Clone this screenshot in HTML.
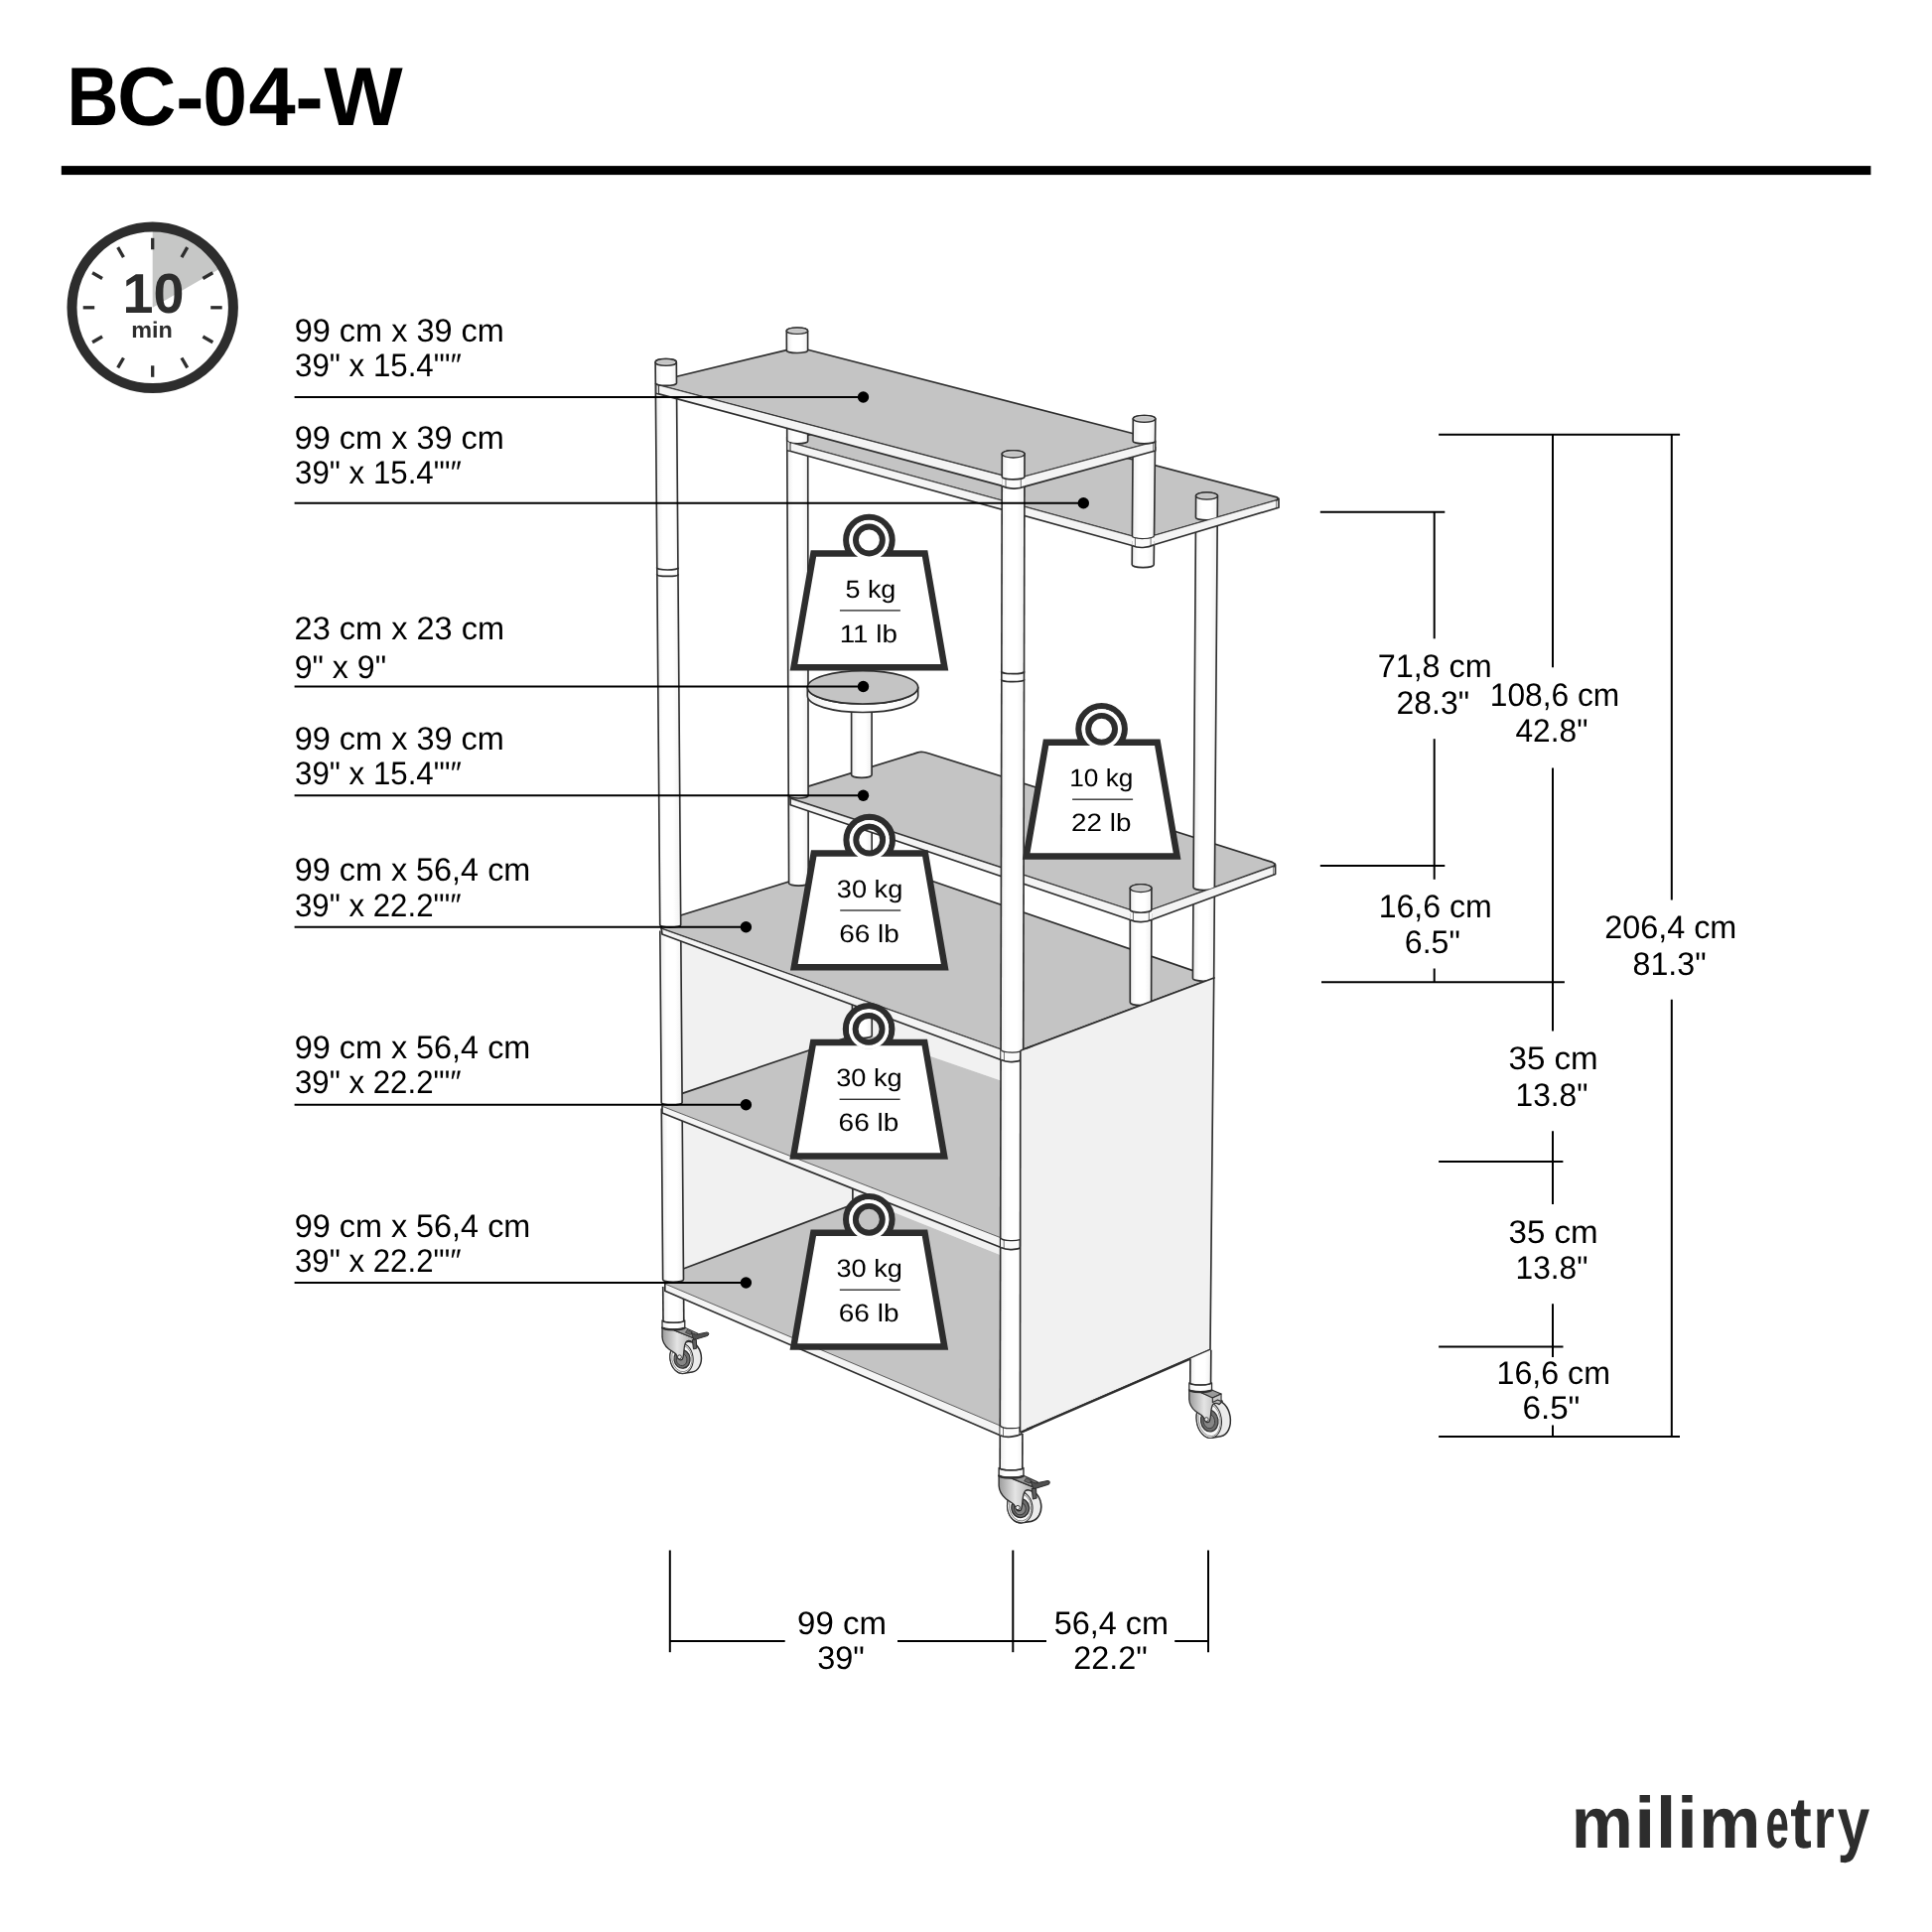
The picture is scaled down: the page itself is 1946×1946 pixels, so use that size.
<!DOCTYPE html>
<html lang="en"><head><meta charset="utf-8"><title>BC-04-W</title>
<style>
html,body{margin:0;padding:0;background:#fff;}
body{width:1946px;height:1946px;overflow:hidden;}
svg{display:block;}
text{text-rendering:geometricPrecision;}
svg{will-change:transform;transform:translateZ(0);}
</style></head><body>
<svg xmlns="http://www.w3.org/2000/svg" width="1946" height="1946" viewBox="0 0 1946 1946" font-family="'Liberation Sans', Arial, sans-serif">
<defs>
<linearGradient id="pg" x1="0" x2="1" y1="0" y2="0">
<stop offset="0" stop-color="#ededed"/><stop offset="0.28" stop-color="#ffffff"/><stop offset="0.7" stop-color="#ffffff"/><stop offset="1" stop-color="#f0f0f0"/>
</linearGradient>
<linearGradient id="hg" x1="0" x2="1" y1="0" y2="0">
<stop offset="0" stop-color="#9c9c9c"/><stop offset="0.45" stop-color="#e4e4e4"/><stop offset="1" stop-color="#a8a8a8"/>
</linearGradient>
<mask id="wm" maskUnits="userSpaceOnUse" x="-90" y="-40" width="180" height="180"><rect x="-90" y="-40" width="180" height="180" fill="#fff"/><circle cx="0" cy="0" r="20" fill="#000"/></mask>
</defs>
<rect width="1946" height="1946" fill="#fff"/>
<text y="125.5" font-size="83.6" font-weight="bold" fill="#000"><tspan x="67.58" textLength="51.97" lengthAdjust="spacingAndGlyphs">B</tspan><tspan x="118.02" textLength="59.52" lengthAdjust="spacingAndGlyphs">C</tspan><tspan x="177.05" textLength="28.58" lengthAdjust="spacingAndGlyphs">-</tspan><tspan x="204.15" textLength="44.87" lengthAdjust="spacingAndGlyphs">0</tspan><tspan x="250.63" textLength="47.21" lengthAdjust="spacingAndGlyphs">4</tspan><tspan x="297.15" textLength="28.58" lengthAdjust="spacingAndGlyphs">-</tspan><tspan x="326.32" textLength="79.46" lengthAdjust="spacingAndGlyphs">W</tspan></text>
<rect x="61.8" y="167.1" width="1822.6" height="9" fill="#000"/>
<path d="M153.7 309.8 L153.7 232.8 A77 77 0 0 1 220.38 271.3 Z" fill="#c6c7c6"/>
<circle cx="153.7" cy="309.8" r="81.2" fill="none" stroke="#2d2d2d" stroke-width="10"/>
<line x1="153.7" y1="251.3" x2="153.7" y2="239.8" stroke="#2d2d2d" stroke-width="3.3" stroke-linecap="butt"/>
<line x1="182.95" y1="259.14" x2="188.7" y2="249.18" stroke="#2d2d2d" stroke-width="3.3" stroke-linecap="butt"/>
<line x1="204.36" y1="280.55" x2="214.32" y2="274.8" stroke="#2d2d2d" stroke-width="3.3" stroke-linecap="butt"/>
<line x1="212.2" y1="309.8" x2="223.7" y2="309.8" stroke="#2d2d2d" stroke-width="3.3" stroke-linecap="butt"/>
<line x1="204.36" y1="339.05" x2="214.32" y2="344.8" stroke="#2d2d2d" stroke-width="3.3" stroke-linecap="butt"/>
<line x1="182.95" y1="360.46" x2="188.7" y2="370.42" stroke="#2d2d2d" stroke-width="3.3" stroke-linecap="butt"/>
<line x1="153.7" y1="368.3" x2="153.7" y2="379.8" stroke="#2d2d2d" stroke-width="3.3" stroke-linecap="butt"/>
<line x1="124.45" y1="360.46" x2="118.7" y2="370.42" stroke="#2d2d2d" stroke-width="3.3" stroke-linecap="butt"/>
<line x1="103.04" y1="339.05" x2="93.08" y2="344.8" stroke="#2d2d2d" stroke-width="3.3" stroke-linecap="butt"/>
<line x1="95.2" y1="309.8" x2="83.7" y2="309.8" stroke="#2d2d2d" stroke-width="3.3" stroke-linecap="butt"/>
<line x1="103.04" y1="280.55" x2="93.08" y2="274.8" stroke="#2d2d2d" stroke-width="3.3" stroke-linecap="butt"/>
<line x1="124.45" y1="259.14" x2="118.7" y2="249.18" stroke="#2d2d2d" stroke-width="3.3" stroke-linecap="butt"/>
<text x="123.49" y="315.4" font-size="56.5" text-anchor="start" font-weight="bold" fill="#2d2d2d" textLength="62.02" lengthAdjust="spacingAndGlyphs" >10</text>
<text x="132.16" y="339.9" font-size="22.7" text-anchor="start" font-weight="bold" fill="#2d2d2d" textLength="41.59" lengthAdjust="spacingAndGlyphs" >min</text>
<text x="296.67" y="344.1" font-size="32.6" text-anchor="start" font-weight="normal" fill="#000" textLength="211.27" lengthAdjust="spacingAndGlyphs" >99 cm x 39 cm</text>
<text x="297.01" y="379.3" font-size="32.6" text-anchor="start" font-weight="normal" fill="#000" textLength="167.89" lengthAdjust="spacingAndGlyphs" >39" x 15.4"'″</text>
<text x="296.67" y="451.8" font-size="32.6" text-anchor="start" font-weight="normal" fill="#000" textLength="211.27" lengthAdjust="spacingAndGlyphs" >99 cm x 39 cm</text>
<text x="297.01" y="487" font-size="32.6" text-anchor="start" font-weight="normal" fill="#000" textLength="167.89" lengthAdjust="spacingAndGlyphs" >39" x 15.4"'″</text>
<text x="296.57" y="643.7" font-size="32.6" text-anchor="start" font-weight="normal" fill="#000" textLength="211.47" lengthAdjust="spacingAndGlyphs" >23 cm x 23 cm</text>
<text x="296.69" y="682.6" font-size="32.6" text-anchor="start" font-weight="normal" fill="#000" textLength="92.35" lengthAdjust="spacingAndGlyphs" >9" x 9"</text>
<text x="296.67" y="754.9" font-size="32.6" text-anchor="start" font-weight="normal" fill="#000" textLength="211.27" lengthAdjust="spacingAndGlyphs" >99 cm x 39 cm</text>
<text x="297.01" y="790" font-size="32.6" text-anchor="start" font-weight="normal" fill="#000" textLength="167.89" lengthAdjust="spacingAndGlyphs" >39" x 15.4"'″</text>
<text x="296.68" y="887.4" font-size="32.6" text-anchor="start" font-weight="normal" fill="#000" textLength="237.66" lengthAdjust="spacingAndGlyphs" >99 cm x 56,4 cm</text>
<text x="297.01" y="922.6" font-size="32.6" text-anchor="start" font-weight="normal" fill="#000" textLength="167.58" lengthAdjust="spacingAndGlyphs" >39" x 22.2"'″</text>
<text x="296.68" y="1066.3" font-size="32.6" text-anchor="start" font-weight="normal" fill="#000" textLength="237.66" lengthAdjust="spacingAndGlyphs" >99 cm x 56,4 cm</text>
<text x="297.01" y="1101.4" font-size="32.6" text-anchor="start" font-weight="normal" fill="#000" textLength="167.58" lengthAdjust="spacingAndGlyphs" >39" x 22.2"'″</text>
<text x="296.68" y="1245.8" font-size="32.6" text-anchor="start" font-weight="normal" fill="#000" textLength="237.66" lengthAdjust="spacingAndGlyphs" >99 cm x 56,4 cm</text>
<text x="297.01" y="1280.5" font-size="32.6" text-anchor="start" font-weight="normal" fill="#000" textLength="167.58" lengthAdjust="spacingAndGlyphs" >39" x 22.2"'″</text>
<g id="drawing">
<polygon points="688.5,1129.54 1008.2,1256.6 1008.2,1264.2 870,1209 688.8,1277.8" fill="#f1f1f1" stroke="none" stroke-width="1.65" stroke-linejoin="round" />
<polygon points="669.8,1293.1 669.8,1285.1 870,1209 1008,1264.2 1008,1436.3" fill="#c4c4c4" stroke="none" stroke-width="1.65" stroke-linejoin="round" />
<polyline points="688.8,1277.8 870,1209" fill="none" stroke="#2e2e2e" stroke-width="1.65" stroke-linejoin="round" stroke-linecap="round" />
<path d="M858.85 1190 L858.89 1208 A9.85 2.5 0 0 0 878.6 1208 L878.56 1190 Z" fill="url(#pg)" stroke="none"/>
<path d="M858.85 1190 L858.89 1208 A9.85 2.5 0 0 0 878.6 1208 L878.56 1190" fill="none" stroke="#2e2e2e" stroke-width="1.65" stroke-linejoin="round" />
<polygon points="685.8,948.06 1008.2,1067.5 1008.2,1088.4 868,1040 686.4,1101.6" fill="#f1f1f1" stroke="none" stroke-width="1.65" stroke-linejoin="round" />
<polygon points="667,1114.3 667,1108.5 868,1040 1008.2,1088.4 1008.2,1246.8" fill="#c4c4c4" stroke="none" stroke-width="1.65" stroke-linejoin="round" />
<polyline points="686.4,1101.6 868,1040" fill="none" stroke="#2e2e2e" stroke-width="1.65" stroke-linejoin="round" stroke-linecap="round" />
<path d="M858.38 1000 L858.48 1043 A9.89 2.5 0 0 0 878.27 1043 L878.18 1000 Z" fill="url(#pg)" stroke="none"/>
<path d="M858.38 1000 L858.48 1043 A9.89 2.5 0 0 0 878.27 1043 L878.18 1000" fill="none" stroke="#2e2e2e" stroke-width="1.65" stroke-linejoin="round" />
<polygon points="666.2,935.4 666.2,928 871.5,864.2 1222.7,984.9 1030.6,1057.1 1020,1061 1008.2,1057.1" fill="#c4c4c4" stroke="#2e2e2e" stroke-width="1.65" stroke-linejoin="round" />
<path d="M857.87 820 L858.19 864.5 A10 2.5 0 0 0 878.2 864.5 L878.14 820 Z" fill="url(#pg)" stroke="none"/>
<path d="M857.87 820 L858.19 864.5 A10 2.5 0 0 0 878.2 864.5 L878.14 820" fill="none" stroke="#2e2e2e" stroke-width="1.65" stroke-linejoin="round" />
<path d="M794.23 800 L794.6 889.5 A9.8 2.6 0 0 0 814.2 889.5 L814.1 800 Z" fill="url(#pg)" stroke="none"/>
<path d="M794.23 800 L794.6 889.5 A9.8 2.6 0 0 0 814.2 889.5 L814.1 800" fill="none" stroke="#2e2e2e" stroke-width="1.65" stroke-linejoin="round" />
<path d="M1138.3 920 L1138.3 1009.8 A10.65 2.8 0 0 0 1159.61 1009.8 L1159.84 920 Z" fill="url(#pg)" stroke="none"/>
<path d="M1138.3 920 L1138.3 1009.8 A10.65 2.8 0 0 0 1159.61 1009.8 L1159.84 920" fill="none" stroke="#2e2e2e" stroke-width="1.65" stroke-linejoin="round" />
<path d="M1202.02 896 L1201.44 985.5 A10.63 2.8 0 0 0 1222.69 985.5 L1223.37 896 Z" fill="url(#pg)" stroke="none"/>
<path d="M1202.02 896 L1201.44 985.5 A10.63 2.8 0 0 0 1222.69 985.5 L1223.37 896" fill="none" stroke="#2e2e2e" stroke-width="1.65" stroke-linejoin="round" />
<path d="M660.3 386 L664.75 931.6 A10.48 2.5 0 0 0 685.71 931.6 L681.49 386 Z" fill="url(#pg)" stroke="none"/>
<path d="M660.3 386 L664.75 931.6 A10.48 2.5 0 0 0 685.71 931.6 L681.49 386" fill="none" stroke="#2e2e2e" stroke-width="1.65" stroke-linejoin="round" />
<path d="M664.8 937.5 L666.21 1110.6 A10.45 2.5 0 0 0 687.1 1110.6 L685.81 944.5 Z" fill="url(#pg)" stroke="none"/>
<path d="M664.8 937.5 L666.21 1110.6 A10.45 2.5 0 0 0 687.1 1110.6 L685.81 944.5" fill="none" stroke="#2e2e2e" stroke-width="1.65" stroke-linejoin="round" />
<path d="M666.26 1116.5 L667.66 1288.8 A10.41 2.5 0 0 0 688.48 1288.8 L687.21 1124.5 Z" fill="url(#pg)" stroke="none"/>
<path d="M666.26 1116.5 L667.66 1288.8 A10.41 2.5 0 0 0 688.48 1288.8 L687.21 1124.5" fill="none" stroke="#2e2e2e" stroke-width="1.65" stroke-linejoin="round" />
<path d="M667.72 1296 L668.01 1331 L688.81 1331 L688.6 1304 Z" fill="url(#pg)" stroke="none"/>
<line x1="667.72" y1="1296" x2="668.01" y2="1331" stroke="#2e2e2e" stroke-width="1.65" stroke-linecap="butt"/>
<line x1="688.6" y1="1304" x2="688.81" y2="1331" stroke="#2e2e2e" stroke-width="1.65" stroke-linecap="butt"/>
<polygon points="1027.8,1058.2 1222.7,984.9 1219,1359.5 1027.5,1442.6" fill="#f1f1f1" stroke="#2e2e2e" stroke-width="1.65" stroke-linejoin="round" />
<line x1="1219" y1="1359.9" x2="1027.5" y2="1443" stroke="#2e2e2e" stroke-width="2.4" stroke-linecap="butt"/>
<clipPath id="cpE"><polygon points="1190,1372.5 1219.3,1359.8 1235,1359.8 1235,1400 1190,1400"/></clipPath>
<g clip-path="url(#cpE)">
<path d="M1199.03 1355 L1198.78 1393.5 A10.4 2.6 0 0 0 1219.57 1393.5 L1219.87 1355 Z" fill="url(#pg)" stroke="none"/>
<path d="M1199.03 1355 L1198.78 1393.5 A10.4 2.6 0 0 0 1219.57 1393.5 L1219.87 1355" fill="none" stroke="#2e2e2e" stroke-width="1.65" stroke-linejoin="round" />
</g>
<polygon points="669.8,1293.1 1007.4,1436 1007.4,1445.7 669.8,1300.2" fill="#f4f4f4" stroke="none" stroke-width="1.65" stroke-linejoin="round" />
<polyline points="1007.4,1445.7 669.8,1300.2 669.8,1293.1" fill="none" stroke="#2e2e2e" stroke-width="1.65" stroke-linejoin="round" stroke-linecap="round" />
<line x1="669.8" y1="1293.1" x2="1007.4" y2="1436" stroke="#2e2e2e" stroke-width="0.75" stroke-linecap="butt"/>
<polygon points="667,1114.3 1008.2,1246.8 1008.2,1256.6 667,1121" fill="#f4f4f4" stroke="none" stroke-width="1.65" stroke-linejoin="round" />
<polyline points="1008.2,1256.6 667,1121 667,1114.3" fill="none" stroke="#2e2e2e" stroke-width="1.65" stroke-linejoin="round" stroke-linecap="round" />
<line x1="667" y1="1114.3" x2="1008.2" y2="1246.8" stroke="#2e2e2e" stroke-width="0.75" stroke-linecap="butt"/>
<polygon points="666.2,935.4 1008.2,1057.1 1008.2,1067.5 667,941.1" fill="#f4f4f4" stroke="none" stroke-width="1.65" stroke-linejoin="round" />
<polyline points="1008.2,1067.5 667,941.1 666.2,935.4" fill="none" stroke="#2e2e2e" stroke-width="1.65" stroke-linejoin="round" stroke-linecap="round" />
<line x1="666.2" y1="935.4" x2="1008.2" y2="1057.1" stroke="#2e2e2e" stroke-width="0.75" stroke-linecap="butt"/>
<polygon points="796.1,804 796.1,797.6 920,759.4 924.5,757.9 928,757.3 931.5,757.7 936,759 1281.4,868.4 1284.3,870.3 1283.2,872.2 1160.6,916.2 1149.5,920.5 1138.3,916.5" fill="#c4c4c4" stroke="#2e2e2e" stroke-width="1.65" stroke-linejoin="round" />
<path d="M792.74 440 L794.23 801.5 A9.94 2.6 0 0 0 814.1 801.5 L813.71 440 Z" fill="url(#pg)" stroke="none"/>
<path d="M792.74 440 L794.23 801.5 A9.94 2.6 0 0 0 814.1 801.5 L813.71 440" fill="none" stroke="#2e2e2e" stroke-width="1.65" stroke-linejoin="round" />
<path d="M1204.44 525 L1202.03 893.8 A10.68 2.8 0 0 0 1223.39 893.8 L1226.21 525 Z" fill="url(#pg)" stroke="none"/>
<path d="M1204.44 525 L1202.03 893.8 A10.68 2.8 0 0 0 1223.39 893.8 L1226.21 525" fill="none" stroke="#2e2e2e" stroke-width="1.65" stroke-linejoin="round" />
<path d="M857.6 712 L857.6 780.5 A10.25 2.8 0 0 0 878.1 780.5 L878.1 712 Z" fill="url(#pg)" stroke="none"/>
<path d="M857.6 712 L857.6 780.5 A10.25 2.8 0 0 0 878.1 780.5 L878.1 712" fill="none" stroke="#2e2e2e" stroke-width="1.65" stroke-linejoin="round" />
<polygon points="796.1,804.5 1138.3,916.5 1138.3,926.5 796.1,810.7" fill="#f4f4f4" stroke="none" stroke-width="1.65" stroke-linejoin="round" />
<polyline points="1138.3,926.5 796.1,810.7 796.1,804.5" fill="none" stroke="#2e2e2e" stroke-width="1.65" stroke-linejoin="round" stroke-linecap="round" />
<line x1="796.1" y1="804.5" x2="1138.3" y2="916.5" stroke="#2e2e2e" stroke-width="0.75" stroke-linecap="butt"/>
<polygon points="1160.6,916.2 1283.2,872.6 1284.6,871 1284.6,880.5 1160.4,926.3" fill="#f4f4f4" stroke="none" stroke-width="1.65" stroke-linejoin="round" />
<polyline points="1283.2,872.6 1284.6,871 1284.6,880.5 1160.4,926.3" fill="none" stroke="#2e2e2e" stroke-width="1.65" stroke-linejoin="round" stroke-linecap="round" />
<line x1="1160.6" y1="916.2" x2="1283.2" y2="872.6" stroke="#2e2e2e" stroke-width="0.75" stroke-linecap="butt"/>
<line x1="1282.6" y1="872.4" x2="1282.6" y2="881.2" stroke="#2e2e2e" stroke-width="0.6" stroke-linecap="butt"/>
<path d="M1138.3 916.4 A11.1 2.9 0 0 0 1160.5 916.1 L1160.5 926.2 C1154.39 929.32 1144.4 929.62 1138.3 926.5 Z" fill="#fbfbfb" stroke="none"/>
<path d="M1138.3 926.5 C1144.4 929.62 1154.39 929.32 1160.5 926.2" fill="none" stroke="#2e2e2e" stroke-width="1.65" stroke-linejoin="round" />
<line x1="1141.4" y1="918.37" x2="1141.4" y2="927.81" stroke="#2e2e2e" stroke-width="0.7" stroke-linecap="butt"/>
<line x1="1157.3" y1="918.18" x2="1157.3" y2="927.61" stroke="#2e2e2e" stroke-width="0.7" stroke-linecap="butt"/>
<path d="M1138.3 894.6 L1138.3 916.3 A10.77 2.9 0 0 0 1159.85 916.3 L1159.9 894.6 A10.8 3.8 0 0 0 1138.3 894.6 Z" fill="url(#pg)" stroke="#2e2e2e" stroke-width="1.65" stroke-linejoin="round" />
<ellipse cx="1149.1" cy="894.6" rx="10.8" ry="3.8" fill="#c4c4c4" stroke="#2e2e2e" stroke-width="1.65"/>
<ellipse cx="1149.1" cy="894.6" rx="9.5" ry="2.8" fill="none" stroke="#e6e6e6" stroke-width="0.7"/>
<path d="M813.3 692.3 A55.7 16.7 0 0 0 924.7 692.3 L924.7 700.8 A55.7 16.7 0 0 1 813.3 700.8 Z" fill="url(#pg)" stroke="#2e2e2e" stroke-width="1.65" stroke-linejoin="round" />
<ellipse cx="869" cy="692.3" rx="55.7" ry="16.7" fill="#c4c4c4" stroke="#2e2e2e" stroke-width="1.65"/>
<polygon points="796,445.8 793.2,443.6 930.5,407.6 1286.2,500.9 1287.6,502.2 1286,503.8 1162.3,539.5 1151.3,543.2 1140.3,540.1" fill="#c4c4c4" stroke="#2e2e2e" stroke-width="1.65" stroke-linejoin="round" />
<path d="M792.67 425 L792.75 444.2 A10.48 2.6 0 0 0 813.72 444.2 L813.7 425 Z" fill="url(#pg)" stroke="none"/>
<path d="M792.67 425 L792.75 444.2 A10.48 2.6 0 0 0 813.72 444.2 L813.7 425" fill="none" stroke="#2e2e2e" stroke-width="1.65" stroke-linejoin="round" />
<path d="M1141.08 450 L1140.42 540.4 A11.05 2.6 0 0 0 1162.52 540.4 L1163.48 450 Z" fill="url(#pg)" stroke="none"/>
<path d="M1141.08 450 L1140.42 540.4 A11.05 2.6 0 0 0 1162.52 540.4 L1163.48 450" fill="none" stroke="#2e2e2e" stroke-width="1.65" stroke-linejoin="round" />
<path d="M1140.39 545 L1140.22 568.8 A11 2.8 0 0 0 1162.22 568.8 L1162.48 545 Z" fill="url(#pg)" stroke="none"/>
<path d="M1140.39 545 L1140.22 568.8 A11 2.8 0 0 0 1162.22 568.8 L1162.48 545" fill="none" stroke="#2e2e2e" stroke-width="1.65" stroke-linejoin="round" />
<path d="M1204.6 499.5 L1204.46 521.3 A10.89 2.6 0 0 0 1226.24 521.3 L1226.4 499.5 A10.9 3.4 0 0 0 1204.6 499.5 Z" fill="url(#pg)" stroke="#2e2e2e" stroke-width="1.65" stroke-linejoin="round" />
<ellipse cx="1215.5" cy="499.5" rx="10.9" ry="3.4" fill="#c4c4c4" stroke="#2e2e2e" stroke-width="1.65"/>
<ellipse cx="1215.5" cy="499.5" rx="9.6" ry="2.4" fill="none" stroke="#e6e6e6" stroke-width="0.7"/>
<polygon points="796,445.8 1140.3,540.1 1140.3,549.5 792.9,453.5" fill="#f4f4f4" stroke="none" stroke-width="1.65" stroke-linejoin="round" />
<polyline points="1140.3,549.5 792.9,453.5 796,445.8" fill="none" stroke="#2e2e2e" stroke-width="1.65" stroke-linejoin="round" stroke-linecap="round" />
<line x1="796" y1="445.8" x2="1140.3" y2="540.1" stroke="#2e2e2e" stroke-width="0.75" stroke-linecap="butt"/>
<polygon points="792.9,443.9 796,445.8 796,454.4 792.9,453.5" fill="#e4e4e4" stroke="#2e2e2e" stroke-width="1.0" stroke-linejoin="round" />
<polygon points="1162.3,539.5 1286,503.8 1288,502.4 1288,511.2 1162.3,548.8" fill="#f4f4f4" stroke="none" stroke-width="1.65" stroke-linejoin="round" />
<polyline points="1286,503.8 1288,502.4 1288,511.2 1162.3,548.8" fill="none" stroke="#2e2e2e" stroke-width="1.65" stroke-linejoin="round" stroke-linecap="round" />
<line x1="1162.3" y1="539.5" x2="1286" y2="503.8" stroke="#2e2e2e" stroke-width="0.75" stroke-linecap="butt"/>
<line x1="1285.6" y1="503.9" x2="1285.6" y2="511.9" stroke="#2e2e2e" stroke-width="0.6" stroke-linecap="butt"/>
<path d="M1140.3 540.1 A11 2.7 0 0 0 1162.3 539.5 L1162.3 548.8 C1156.25 551.92 1146.35 552.62 1140.3 549.5 Z" fill="#fbfbfb" stroke="none"/>
<path d="M1140.3 540.1 A11 2.7 0 0 0 1162.3 539.5" fill="none" stroke="#2e2e2e" stroke-width="1.2" stroke-linejoin="round" />
<path d="M1140.3 549.5 C1146.35 552.62 1156.25 551.92 1162.3 548.8" fill="none" stroke="#2e2e2e" stroke-width="1.65" stroke-linejoin="round" />
<line x1="1143.4" y1="541.89" x2="1143.4" y2="550.76" stroke="#2e2e2e" stroke-width="0.7" stroke-linecap="butt"/>
<line x1="1159.1" y1="541.49" x2="1159.1" y2="550.28" stroke="#2e2e2e" stroke-width="0.7" stroke-linecap="butt"/>
<path d="M1009.25 478 L1007.2 1479 L1029.8 1479 L1029.88 1445 L1031.95 478 Z" fill="url(#pg)"/>
<line x1="1009.25" y1="478" x2="1007.2" y2="1479" stroke="#2e2e2e" stroke-width="1.65" stroke-linecap="butt"/>
<line x1="1031.95" y1="478" x2="1030.71" y2="1057.5" stroke="#2e2e2e" stroke-width="1.65" stroke-linecap="butt"/>
<line x1="1029.88" y1="1444" x2="1029.8" y2="1479" stroke="#2e2e2e" stroke-width="1.65" stroke-linecap="butt"/>
<path d="M1008.3 1057.2 A11.15 2.9 0 0 0 1030.6 1057.1 L1030.6 1067 C1024.47 1070.12 1014.43 1070.62 1008.3 1067.5 Z" fill="#fbfbfb" stroke="none"/>
<path d="M1008.3 1057.2 A11.15 2.9 0 0 0 1030.6 1057.1" fill="none" stroke="#2e2e2e" stroke-width="1.2" stroke-linejoin="round" />
<path d="M1008.3 1067.5 C1014.43 1070.62 1024.47 1070.12 1030.6 1067" fill="none" stroke="#2e2e2e" stroke-width="1.65" stroke-linejoin="round" />
<line x1="1011.4" y1="1059.19" x2="1011.4" y2="1068.78" stroke="#2e2e2e" stroke-width="0.7" stroke-linecap="butt"/>
<line x1="1027.4" y1="1059.15" x2="1027.4" y2="1068.44" stroke="#2e2e2e" stroke-width="0.7" stroke-linecap="butt"/>
<path d="M1008.1 1246.8 A11.1 2.9 0 0 0 1030.3 1246.6 L1030.3 1256 C1024.19 1259.12 1014.21 1259.72 1008.1 1256.6 Z" fill="#fbfbfb" stroke="none"/>
<path d="M1008.1 1246.8 A11.1 2.9 0 0 0 1030.3 1246.6" fill="none" stroke="#2e2e2e" stroke-width="1.2" stroke-linejoin="round" />
<path d="M1008.1 1256.6 C1014.21 1259.72 1024.19 1259.12 1030.3 1256" fill="none" stroke="#2e2e2e" stroke-width="1.65" stroke-linejoin="round" />
<line x1="1011.2" y1="1248.78" x2="1011.2" y2="1257.87" stroke="#2e2e2e" stroke-width="0.7" stroke-linecap="butt"/>
<line x1="1027.1" y1="1248.67" x2="1027.1" y2="1257.46" stroke="#2e2e2e" stroke-width="0.7" stroke-linecap="butt"/>
<path d="M1007.4 1436 A11.25 2.9 0 0 0 1029.9 1435.6 L1029.9 1444 C1023.71 1447.12 1013.59 1448.82 1007.4 1445.7 Z" fill="#fbfbfb" stroke="none"/>
<path d="M1007.4 1436 A11.25 2.9 0 0 0 1029.9 1435.6" fill="none" stroke="#2e2e2e" stroke-width="1.2" stroke-linejoin="round" />
<path d="M1007.4 1445.7 C1013.59 1448.82 1023.71 1447.12 1029.9 1444" fill="none" stroke="#2e2e2e" stroke-width="1.65" stroke-linejoin="round" />
<line x1="1010.5" y1="1437.94" x2="1010.5" y2="1446.81" stroke="#2e2e2e" stroke-width="0.7" stroke-linecap="butt"/>
<line x1="1026.7" y1="1437.68" x2="1026.7" y2="1445.6" stroke="#2e2e2e" stroke-width="0.7" stroke-linecap="butt"/>
<polygon points="1027.8,1058.2 1034,1055.9 1034,1439.8 1027.5,1442.6" fill="#f1f1f1" stroke="none" stroke-width="1.65" stroke-linejoin="round" />
<line x1="1027.8" y1="1058.2" x2="1027.5" y2="1442.6" stroke="#2e2e2e" stroke-width="1.65" stroke-linecap="butt"/>
<line x1="1027.8" y1="1058.2" x2="1040" y2="1053.6" stroke="#2e2e2e" stroke-width="1.65" stroke-linecap="butt"/>
<line x1="1027.5" y1="1443" x2="1040" y2="1437.6" stroke="#2e2e2e" stroke-width="2.4" stroke-linecap="butt"/>
<polygon points="660.9,387.3 660.9,384.2 792.3,352.6 801,350.4 813.6,352.3 1163,442.2 1163.6,445 1161,445.6 1032,480 1020.6,483 1009.3,478.9" fill="#c4c4c4" stroke="#2e2e2e" stroke-width="1.65" stroke-linejoin="round" />
<polygon points="660.9,387.3 1009.3,478.9 1009.3,489.4 660.9,396.1" fill="#f4f4f4" stroke="none" stroke-width="1.65" stroke-linejoin="round" />
<polyline points="1009.3,489.4 660.9,396.1 660.9,387.3" fill="none" stroke="#2e2e2e" stroke-width="1.65" stroke-linejoin="round" stroke-linecap="round" />
<line x1="660.9" y1="387.3" x2="1009.3" y2="478.9" stroke="#2e2e2e" stroke-width="0.75" stroke-linecap="butt"/>
<polygon points="660.9,385.5 663.6,388 663.6,396.8 660.9,396.1" fill="#dcdcdc" stroke="#2e2e2e" stroke-width="1.0" stroke-linejoin="round" />
<polygon points="1032,480 1161,445.6 1163.7,444.9 1163.7,454 1032,490.1" fill="#f4f4f4" stroke="none" stroke-width="1.65" stroke-linejoin="round" />
<polyline points="1161,445.6 1163.7,444.9 1163.7,454 1032,490.1" fill="none" stroke="#2e2e2e" stroke-width="1.65" stroke-linejoin="round" stroke-linecap="round" />
<line x1="1032" y1="480" x2="1161" y2="445.6" stroke="#2e2e2e" stroke-width="0.75" stroke-linecap="butt"/>
<line x1="1161.6" y1="445.5" x2="1161.6" y2="454.5" stroke="#2e2e2e" stroke-width="0.6" stroke-linecap="butt"/>
<path d="M1009.3 478.9 A11.35 2.6 0 0 0 1032 480 L1032 490.1 C1025.76 493.22 1015.54 492.52 1009.3 489.4 Z" fill="#fbfbfb" stroke="none"/>
<path d="M1009.3 489.4 C1015.54 492.52 1025.76 493.22 1032 490.1" fill="none" stroke="#2e2e2e" stroke-width="1.65" stroke-linejoin="round" />
<line x1="1013" y1="481" x2="1013" y2="490.95" stroke="#2e2e2e" stroke-width="0.7" stroke-linecap="butt"/>
<line x1="1028.3" y1="481.74" x2="1028.3" y2="491.43" stroke="#2e2e2e" stroke-width="0.7" stroke-linecap="butt"/>
<path d="M660.12 364.9 L660.3 385.9 A10.6 2.6 0 0 0 681.49 385.9 L681.32 364.9 A10.6 3.2 0 0 0 660.12 364.9 Z" fill="url(#pg)" stroke="#2e2e2e" stroke-width="1.65" stroke-linejoin="round" />
<ellipse cx="670.72" cy="364.9" rx="10.6" ry="3.2" fill="#c4c4c4" stroke="#2e2e2e" stroke-width="1.65"/>
<ellipse cx="670.72" cy="364.9" rx="9.3" ry="2.2" fill="none" stroke="#e6e6e6" stroke-width="0.7"/>
<path d="M792.29 333.2 L792.37 352.9 A10.62 2.6 0 0 0 813.62 352.9 L813.6 333.2 A10.65 3 0 0 0 792.29 333.2 Z" fill="url(#pg)" stroke="#2e2e2e" stroke-width="1.65" stroke-linejoin="round" />
<ellipse cx="802.95" cy="333.2" rx="10.65" ry="3" fill="#c4c4c4" stroke="#2e2e2e" stroke-width="1.65"/>
<ellipse cx="802.95" cy="333.2" rx="9.35" ry="2" fill="none" stroke="#e6e6e6" stroke-width="0.7"/>
<path d="M1009.3 457.3 L1009.25 480.3 A11.35 2.6 0 0 0 1031.95 480.3 L1032 457.3 A11.35 3.5 0 0 0 1009.3 457.3 Z" fill="url(#pg)" stroke="#2e2e2e" stroke-width="1.65" stroke-linejoin="round" />
<ellipse cx="1020.65" cy="457.3" rx="11.35" ry="3.5" fill="#c4c4c4" stroke="#2e2e2e" stroke-width="1.65"/>
<ellipse cx="1020.65" cy="457.3" rx="10.05" ry="2.5" fill="none" stroke="#e6e6e6" stroke-width="0.7"/>
<path d="M1141.29 421.8 L1141.12 444.3 A11.21 2.6 0 0 0 1163.54 444.3 L1163.78 421.8 A11.25 3.3 0 0 0 1141.29 421.8 Z" fill="url(#pg)" stroke="#2e2e2e" stroke-width="1.65" stroke-linejoin="round" />
<ellipse cx="1152.53" cy="421.8" rx="11.25" ry="3.3" fill="#c4c4c4" stroke="#2e2e2e" stroke-width="1.65"/>
<ellipse cx="1152.53" cy="421.8" rx="9.95" ry="2.3" fill="none" stroke="#e6e6e6" stroke-width="0.7"/>
<path d="M661.41 571.8 A10.96 2.2 0 0 0 683.33 571.8" fill="none" stroke="#2e2e2e" stroke-width="1.65" stroke-linejoin="round" />
<path d="M661.47 578.3 A10.96 2.2 0 0 0 683.38 578.3" fill="none" stroke="#2e2e2e" stroke-width="1.65" stroke-linejoin="round" />
<path d="M1008.45 676.5 A11.74 2.2 0 0 0 1031.92 676.5" fill="none" stroke="#2e2e2e" stroke-width="1.65" stroke-linejoin="round" />
<path d="M1008.43 684.5 A11.74 2.2 0 0 0 1031.91 684.5" fill="none" stroke="#2e2e2e" stroke-width="1.65" stroke-linejoin="round" />
</g>
<g transform="translate(668 1330) scale(0.99)">
<path d="M18.72 22.11 A11.65 15.65 0 0 0 18.72 53.41 L27.12 53.41 A11.65 15.65 0 0 0 27.12 22.11 Z" fill="#ececec" stroke="#2e2e2e" stroke-width="1.5" transform="rotate(-9 22.92 37.76)"/>
<ellipse cx="18.72" cy="37.76" rx="11.65" ry="15.65" fill="#f8f8f8" stroke="#2e2e2e" stroke-width="1.0" transform="rotate(-9 22.92 37.76)"/>
<ellipse cx="19.02" cy="37.96" rx="10.15" ry="13.75" fill="none" stroke="#666" stroke-width="0.7" transform="rotate(-9 22.92 37.76)"/>
<ellipse cx="19.02" cy="38.76" rx="8.16" ry="9.39" fill="#6c6c6c" stroke="#2e2e2e" stroke-width="1.2" transform="rotate(-9 22.92 37.76)"/>
<ellipse cx="18.52" cy="39.16" rx="5.36" ry="6.26" fill="#868686" stroke="#3a3a3a" stroke-width="0.9" transform="rotate(-9 22.92 37.76)"/>
<path d="M-1 0 L-1 7 A11.5 2.4 0 0 0 22 7 L22 0 A11.5 2.3 0 0 1 -1 0 Z" fill="url(#pg)" stroke="#2e2e2e" stroke-width="1.3" stroke-linejoin="round" />
<path d="M-0.2 0 A10.7 2.2 0 0 0 21.2 0" fill="none" stroke="#2e2e2e" stroke-width="1.3" stroke-linejoin="round" />
<path d="M-1 7 L-1 16.8 C-0.8 21 1.5 25.6 5.6 29 C8.5 31.3 11.4 32.4 13.2 34.6 L14.6 37.4 C15.2 39.8 17.6 41 19.4 39.6 C20.6 38 20.9 34 21.2 30 C21.5 26 21.8 23 24 21.2 C26 20 28 21 29.6 22 L32.8 18.6 L11.9 10.3 L10.5 9.2 A11.5 2.4 0 0 1 -1 7 Z" fill="url(#hg)" stroke="#2e2e2e" stroke-width="1.3" stroke-linejoin="round" />
<path d="M11.9 10.3 L32.8 18.6 L35.2 13.4 L22 7.2 A11.5 2.4 0 0 1 10.5 9.2 Z" fill="#9a9a9a" stroke="#2e2e2e" stroke-width="1.1" stroke-linejoin="round" />
<path d="M24.5 9.6 L29.6 12 L27.6 14.6 L22.6 12.4 Z" fill="#666" stroke="#2e2e2e" stroke-width="0.7" stroke-linejoin="round" />
<path d="M28.6 12.6 L33.4 14.4 L44.4 12.1 Q46.6 12.2 46.3 14.0 Q46.0 15.5 44.4 15.8 L34.0 19.0 L31.0 19.4 Z" fill="#505050" stroke="#2e2e2e" stroke-width="1.0" stroke-linejoin="round" />
<path d="M29.6 19.6 L33.6 19.4 L34.2 28.4 L30.8 29.2 Z" fill="#5e5e5e" stroke="#2e2e2e" stroke-width="1.0" stroke-linejoin="round" />
<path d="M-1 7 A11.5 2.4 0 0 0 22 7" fill="none" stroke="#2e2e2e" stroke-width="2.2" stroke-linejoin="round" />
<circle cx="16.6" cy="37.2" r="2.0" fill="#e8e8e8" stroke="#333" stroke-width="0.9"/>
</g>
<g transform="translate(1007.2 1478.4) scale(1.08)">
<path d="M18.53 21.05 A11.75 14.87 0 0 0 18.53 50.78 L27 50.78 A11.75 14.87 0 0 0 27 21.05 Z" fill="#ececec" stroke="#2e2e2e" stroke-width="1.5" transform="rotate(-9 22.77 35.91)"/>
<ellipse cx="18.53" cy="35.91" rx="11.75" ry="14.87" fill="#f8f8f8" stroke="#2e2e2e" stroke-width="1.0" transform="rotate(-9 22.77 35.91)"/>
<ellipse cx="18.83" cy="36.11" rx="10.25" ry="12.97" fill="none" stroke="#666" stroke-width="0.7" transform="rotate(-9 22.77 35.91)"/>
<ellipse cx="18.83" cy="36.91" rx="8.22" ry="8.92" fill="#6c6c6c" stroke="#2e2e2e" stroke-width="1.2" transform="rotate(-9 22.77 35.91)"/>
<ellipse cx="18.33" cy="37.31" rx="5.4" ry="5.95" fill="#868686" stroke="#3a3a3a" stroke-width="0.9" transform="rotate(-9 22.77 35.91)"/>
<path d="M-1 0 L-1 7 A11.5 2.4 0 0 0 22 7 L22 0 A11.5 2.3 0 0 1 -1 0 Z" fill="url(#pg)" stroke="#2e2e2e" stroke-width="1.3" stroke-linejoin="round" />
<path d="M-0.2 0 A10.7 2.2 0 0 0 21.2 0" fill="none" stroke="#2e2e2e" stroke-width="1.3" stroke-linejoin="round" />
<path d="M-1 7 L-1 16.8 C-0.8 21 1.5 25.6 5.6 29 C8.5 31.3 11.4 32.4 13.2 34.6 L14.6 37.4 C15.2 39.8 17.6 41 19.4 39.6 C20.6 38 20.9 34 21.2 30 C21.5 26 21.8 23 24 21.2 C26 20 28 21 29.6 22 L32.8 18.6 L11.9 10.3 L10.5 9.2 A11.5 2.4 0 0 1 -1 7 Z" fill="url(#hg)" stroke="#2e2e2e" stroke-width="1.3" stroke-linejoin="round" />
<path d="M11.9 10.3 L32.8 18.6 L35.2 13.4 L22 7.2 A11.5 2.4 0 0 1 10.5 9.2 Z" fill="#9a9a9a" stroke="#2e2e2e" stroke-width="1.1" stroke-linejoin="round" />
<path d="M24.5 9.6 L29.6 12 L27.6 14.6 L22.6 12.4 Z" fill="#666" stroke="#2e2e2e" stroke-width="0.7" stroke-linejoin="round" />
<path d="M28.6 12.6 L33.4 14.4 L44.4 12.1 Q46.6 12.2 46.3 14.0 Q46.0 15.5 44.4 15.8 L34.0 19.0 L31.0 19.4 Z" fill="#505050" stroke="#2e2e2e" stroke-width="1.0" stroke-linejoin="round" />
<path d="M29.6 19.6 L33.6 19.4 L34.2 28.4 L30.8 29.2 Z" fill="#5e5e5e" stroke="#2e2e2e" stroke-width="1.0" stroke-linejoin="round" />
<path d="M-1 7 A11.5 2.4 0 0 0 22 7" fill="none" stroke="#2e2e2e" stroke-width="2.2" stroke-linejoin="round" />
<circle cx="16.6" cy="37.2" r="2.0" fill="#e8e8e8" stroke="#333" stroke-width="0.9"/>
</g>
<g transform="translate(1198.78 1392.8) scale(0.99)">
<path d="M19.18 18.38 A12.62 18.58 0 0 0 19.18 55.54 L28.28 55.54 A12.62 18.58 0 0 0 28.28 18.38 Z" fill="#ececec" stroke="#2e2e2e" stroke-width="1.5" transform="rotate(-9 23.73 36.96)"/>
<ellipse cx="19.18" cy="36.96" rx="12.62" ry="18.58" fill="#f8f8f8" stroke="#2e2e2e" stroke-width="1.0" transform="rotate(-9 23.73 36.96)"/>
<ellipse cx="19.48" cy="37.16" rx="11.12" ry="16.68" fill="none" stroke="#666" stroke-width="0.7" transform="rotate(-9 23.73 36.96)"/>
<ellipse cx="19.48" cy="37.96" rx="8.83" ry="11.15" fill="#6c6c6c" stroke="#2e2e2e" stroke-width="1.2" transform="rotate(-9 23.73 36.96)"/>
<ellipse cx="18.98" cy="38.36" rx="5.8" ry="7.43" fill="#868686" stroke="#3a3a3a" stroke-width="0.9" transform="rotate(-9 23.73 36.96)"/>
<path d="M-1 0 L-1 7 A11.5 2.4 0 0 0 22 7 L22 0 A11.5 2.3 0 0 1 -1 0 Z" fill="url(#pg)" stroke="#2e2e2e" stroke-width="1.3" stroke-linejoin="round" />
<path d="M-0.2 0 A10.7 2.2 0 0 0 21.2 0" fill="none" stroke="#2e2e2e" stroke-width="1.3" stroke-linejoin="round" />
<path d="M-1 7 L-1 16.8 C-0.8 21 1.5 25.6 5.6 29 C8.5 31.3 11.4 32.4 13.2 34.6 L14.6 37.4 C15.2 39.8 17.6 41 19.4 39.6 C20.6 38 20.9 34 21.2 30 C21.5 26 21.8 23 24 21.2 C26 20 28 21 29.6 22 L32.8 18.6 L11.9 10.3 L10.5 9.2 A11.5 2.4 0 0 1 -1 7 Z" fill="url(#hg)" stroke="#2e2e2e" stroke-width="1.3" stroke-linejoin="round" />
<path d="M11.9 10.3 L22.8 15.4 L31.6 11.4 L22 7.2 A11.5 2.4 0 0 1 10.5 9.2 Z" fill="#9a9a9a" stroke="#2e2e2e" stroke-width="1.1" stroke-linejoin="round" />
<path d="M22.8 15.4 L31.6 11.4 L31.6 18.8 L28 17.4 L22.8 19.8 Z" fill="#c9c9c9" stroke="#2e2e2e" stroke-width="1.1" stroke-linejoin="round" />
<path d="M-1 7 A11.5 2.4 0 0 0 22 7" fill="none" stroke="#2e2e2e" stroke-width="2.2" stroke-linejoin="round" />
<circle cx="16.6" cy="37.2" r="2.0" fill="#e8e8e8" stroke="#333" stroke-width="0.9"/>
</g>
<g transform="translate(875.4 544)">
<g mask="url(#wm)">
<circle cx="0" cy="0" r="23" fill="none" stroke="#2d2d2d" stroke-width="6.6"/>
<polygon points="-56 13.5 56.2 13.5 76 128.2 -75.9 128.2" fill="#fff" stroke="#2d2d2d" stroke-width="6.5" stroke-linejoin="miter"/>
</g>
<circle cx="0" cy="0" r="18.2" fill="none" stroke="#fff" stroke-width="3.9"/>
<circle cx="0" cy="0" r="13.45" fill="none" stroke="#2d2d2d" stroke-width="5.9"/>
<text x="-23.98" y="58" font-size="25" text-anchor="start" font-weight="normal" fill="#000" textLength="50.9" lengthAdjust="spacingAndGlyphs" >5 kg</text>
<rect x="-29.5" y="70.2" width="61" height="1.4" fill="#333"/>
<text x="-29.71" y="102.6" font-size="25" text-anchor="start" font-weight="normal" fill="#000" textLength="58.19" lengthAdjust="spacingAndGlyphs" >11 lb</text>
</g>
<g transform="translate(1109.6 734.3)">
<g mask="url(#wm)">
<circle cx="0" cy="0" r="23" fill="none" stroke="#2d2d2d" stroke-width="6.6"/>
<polygon points="-56 13.5 56.2 13.5 76 128.2 -75.9 128.2" fill="#fff" stroke="#2d2d2d" stroke-width="6.5" stroke-linejoin="miter"/>
</g>
<circle cx="0" cy="0" r="18.2" fill="none" stroke="#fff" stroke-width="3.9"/>
<circle cx="0" cy="0" r="13.45" fill="none" stroke="#2d2d2d" stroke-width="5.9"/>
<text x="-32.39" y="58" font-size="25" text-anchor="start" font-weight="normal" fill="#000" textLength="64.18" lengthAdjust="spacingAndGlyphs" >10 kg</text>
<rect x="-29.5" y="70.2" width="61" height="1.4" fill="#333"/>
<text x="-30.49" y="102.6" font-size="25" text-anchor="start" font-weight="normal" fill="#000" textLength="60.37" lengthAdjust="spacingAndGlyphs" >22 lb</text>
</g>
<g transform="translate(875.7 846.1)">
<g mask="url(#wm)">
<circle cx="0" cy="0" r="23" fill="none" stroke="#2d2d2d" stroke-width="6.6"/>
<polygon points="-56 13.5 56.2 13.5 76 128.2 -75.9 128.2" fill="#fff" stroke="#2d2d2d" stroke-width="6.5" stroke-linejoin="miter"/>
</g>
<circle cx="0" cy="0" r="18.2" fill="none" stroke="#fff" stroke-width="3.9"/>
<circle cx="0" cy="0" r="13.45" fill="none" stroke="#2d2d2d" stroke-width="5.9"/>
<text x="-32.93" y="58" font-size="25" text-anchor="start" font-weight="normal" fill="#000" textLength="66.48" lengthAdjust="spacingAndGlyphs" >30 kg</text>
<rect x="-29.5" y="70.2" width="61" height="1.4" fill="#333"/>
<text x="-30.53" y="102.6" font-size="25" text-anchor="start" font-weight="normal" fill="#000" textLength="60.72" lengthAdjust="spacingAndGlyphs" >66 lb</text>
</g>
<g transform="translate(875.1 1036.4)">
<g mask="url(#wm)">
<circle cx="0" cy="0" r="23" fill="none" stroke="#2d2d2d" stroke-width="6.6"/>
<polygon points="-56 13.5 56.2 13.5 76 128.2 -75.9 128.2" fill="#fff" stroke="#2d2d2d" stroke-width="6.5" stroke-linejoin="miter"/>
</g>
<circle cx="0" cy="0" r="18.2" fill="none" stroke="#fff" stroke-width="3.9"/>
<circle cx="0" cy="0" r="13.45" fill="none" stroke="#2d2d2d" stroke-width="5.9"/>
<text x="-32.93" y="58" font-size="25" text-anchor="start" font-weight="normal" fill="#000" textLength="66.48" lengthAdjust="spacingAndGlyphs" >30 kg</text>
<rect x="-29.5" y="70.2" width="61" height="1.4" fill="#333"/>
<text x="-30.53" y="102.6" font-size="25" text-anchor="start" font-weight="normal" fill="#000" textLength="60.72" lengthAdjust="spacingAndGlyphs" >66 lb</text>
</g>
<g transform="translate(875.3 1228.3)">
<g mask="url(#wm)">
<circle cx="0" cy="0" r="23" fill="none" stroke="#2d2d2d" stroke-width="6.6"/>
<polygon points="-56 13.5 56.2 13.5 76 128.2 -75.9 128.2" fill="#fff" stroke="#2d2d2d" stroke-width="6.5" stroke-linejoin="miter"/>
</g>
<circle cx="0" cy="0" r="18.2" fill="none" stroke="#fff" stroke-width="3.9"/>
<circle cx="0" cy="0" r="13.45" fill="none" stroke="#2d2d2d" stroke-width="5.9"/>
<text x="-32.93" y="58" font-size="25" text-anchor="start" font-weight="normal" fill="#000" textLength="66.48" lengthAdjust="spacingAndGlyphs" >30 kg</text>
<rect x="-29.5" y="70.2" width="61" height="1.4" fill="#333"/>
<text x="-30.53" y="102.6" font-size="25" text-anchor="start" font-weight="normal" fill="#000" textLength="60.72" lengthAdjust="spacingAndGlyphs" >66 lb</text>
</g>
<line x1="296.6" y1="400" x2="869.5" y2="400" stroke="#000" stroke-width="2.0" stroke-linecap="butt"/>
<circle cx="869.5" cy="400" r="5.7" fill="#000"/>
<line x1="296.6" y1="506.8" x2="1091.3" y2="506.8" stroke="#000" stroke-width="2.0" stroke-linecap="butt"/>
<circle cx="1091.3" cy="506.8" r="5.7" fill="#000"/>
<line x1="296.6" y1="691.5" x2="869.5" y2="691.5" stroke="#000" stroke-width="2.0" stroke-linecap="butt"/>
<circle cx="869.5" cy="691.5" r="5.7" fill="#000"/>
<line x1="296.6" y1="801.2" x2="869.5" y2="801.2" stroke="#000" stroke-width="2.0" stroke-linecap="butt"/>
<circle cx="869.5" cy="801.2" r="5.7" fill="#000"/>
<line x1="296.6" y1="933.8" x2="751.4" y2="933.8" stroke="#000" stroke-width="2.0" stroke-linecap="butt"/>
<circle cx="751.4" cy="933.8" r="5.7" fill="#000"/>
<line x1="296.6" y1="1112.8" x2="751.4" y2="1112.8" stroke="#000" stroke-width="2.0" stroke-linecap="butt"/>
<circle cx="751.4" cy="1112.8" r="5.7" fill="#000"/>
<line x1="296.6" y1="1292" x2="751.4" y2="1292" stroke="#000" stroke-width="2.0" stroke-linecap="butt"/>
<circle cx="751.4" cy="1292" r="5.7" fill="#000"/>
<line x1="1449.1" y1="437.8" x2="1692.1" y2="437.8" stroke="#000" stroke-width="2.0" stroke-linecap="butt"/>
<line x1="1329.8" y1="515.7" x2="1455.3" y2="515.7" stroke="#000" stroke-width="2.0" stroke-linecap="butt"/>
<line x1="1329.8" y1="872" x2="1455.3" y2="872" stroke="#000" stroke-width="2.0" stroke-linecap="butt"/>
<line x1="1331" y1="989.2" x2="1575.9" y2="989.2" stroke="#000" stroke-width="2.0" stroke-linecap="butt"/>
<line x1="1449.1" y1="1169.9" x2="1574.4" y2="1169.9" stroke="#000" stroke-width="2.0" stroke-linecap="butt"/>
<line x1="1449.1" y1="1356.6" x2="1574.5" y2="1356.6" stroke="#000" stroke-width="2.0" stroke-linecap="butt"/>
<line x1="1449.1" y1="1447" x2="1692" y2="1447" stroke="#000" stroke-width="2.0" stroke-linecap="butt"/>
<line x1="1444.7" y1="515.7" x2="1444.7" y2="643.3" stroke="#000" stroke-width="2.0" stroke-linecap="butt"/>
<line x1="1444.7" y1="744.2" x2="1444.7" y2="885.8" stroke="#000" stroke-width="2.0" stroke-linecap="butt"/>
<line x1="1444.7" y1="975.5" x2="1444.7" y2="989.2" stroke="#000" stroke-width="2.0" stroke-linecap="butt"/>
<line x1="1564" y1="437.8" x2="1564" y2="672.3" stroke="#000" stroke-width="2.0" stroke-linecap="butt"/>
<line x1="1564" y1="773.4" x2="1564" y2="1038.4" stroke="#000" stroke-width="2.0" stroke-linecap="butt"/>
<line x1="1564" y1="1139.3" x2="1564" y2="1213.1" stroke="#000" stroke-width="2.0" stroke-linecap="butt"/>
<line x1="1564" y1="1313.3" x2="1564" y2="1367" stroke="#000" stroke-width="2.0" stroke-linecap="butt"/>
<line x1="1564" y1="1435.5" x2="1564" y2="1447" stroke="#000" stroke-width="2.0" stroke-linecap="butt"/>
<line x1="1683.8" y1="437.8" x2="1683.8" y2="906.4" stroke="#000" stroke-width="2.0" stroke-linecap="butt"/>
<line x1="1683.8" y1="1006.8" x2="1683.8" y2="1447" stroke="#000" stroke-width="2.0" stroke-linecap="butt"/>
<text x="1387.65" y="681.6" font-size="32.6" text-anchor="start" font-weight="normal" fill="#000" textLength="115.09" lengthAdjust="spacingAndGlyphs" >71,8 cm</text>
<text x="1406.61" y="718.8" font-size="32.6" text-anchor="start" font-weight="normal" fill="#000" textLength="73.34" lengthAdjust="spacingAndGlyphs" >28.3"</text>
<text x="1500.79" y="710.6" font-size="32.6" text-anchor="start" font-weight="normal" fill="#000" textLength="130.52" lengthAdjust="spacingAndGlyphs" >108,6 cm</text>
<text x="1526.47" y="747.3" font-size="32.6" text-anchor="start" font-weight="normal" fill="#000" textLength="72.97" lengthAdjust="spacingAndGlyphs" >42.8"</text>
<text x="1388.66" y="923.8" font-size="32.6" text-anchor="start" font-weight="normal" fill="#000" textLength="114.06" lengthAdjust="spacingAndGlyphs" >16,6 cm</text>
<text x="1414.86" y="960" font-size="32.6" text-anchor="start" font-weight="normal" fill="#000" textLength="55.99" lengthAdjust="spacingAndGlyphs" >6.5"</text>
<text x="1616.18" y="945.2" font-size="32.6" text-anchor="start" font-weight="normal" fill="#000" textLength="133.17" lengthAdjust="spacingAndGlyphs" >206,4 cm</text>
<text x="1644.62" y="981.5" font-size="32.6" text-anchor="start" font-weight="normal" fill="#000" textLength="73.94" lengthAdjust="spacingAndGlyphs" >81.3"</text>
<text x="1519.54" y="1077" font-size="32.6" text-anchor="start" font-weight="normal" fill="#000" textLength="90.15" lengthAdjust="spacingAndGlyphs" >35 cm</text>
<text x="1526.59" y="1114" font-size="32.6" text-anchor="start" font-weight="normal" fill="#000" textLength="72.84" lengthAdjust="spacingAndGlyphs" >13.8"</text>
<text x="1519.54" y="1251.7" font-size="32.6" text-anchor="start" font-weight="normal" fill="#000" textLength="90.15" lengthAdjust="spacingAndGlyphs" >35 cm</text>
<text x="1526.59" y="1288.2" font-size="32.6" text-anchor="start" font-weight="normal" fill="#000" textLength="72.84" lengthAdjust="spacingAndGlyphs" >13.8"</text>
<text x="1507.55" y="1394.1" font-size="32.6" text-anchor="start" font-weight="normal" fill="#000" textLength="114.47" lengthAdjust="spacingAndGlyphs" >16,6 cm</text>
<text x="1533.51" y="1429.4" font-size="32.6" text-anchor="start" font-weight="normal" fill="#000" textLength="57.89" lengthAdjust="spacingAndGlyphs" >6.5"</text>
<line x1="674.8" y1="1561.5" x2="674.8" y2="1664.2" stroke="#000" stroke-width="2.0" stroke-linecap="butt"/>
<line x1="1020.3" y1="1561.5" x2="1020.3" y2="1664.2" stroke="#000" stroke-width="2.0" stroke-linecap="butt"/>
<line x1="1217" y1="1561.5" x2="1217" y2="1664.2" stroke="#000" stroke-width="2.0" stroke-linecap="butt"/>
<line x1="674.8" y1="1653" x2="790.7" y2="1653" stroke="#000" stroke-width="2.0" stroke-linecap="butt"/>
<line x1="904" y1="1653" x2="1054" y2="1653" stroke="#000" stroke-width="2.0" stroke-linecap="butt"/>
<line x1="1183.2" y1="1653" x2="1217" y2="1653" stroke="#000" stroke-width="2.0" stroke-linecap="butt"/>
<text x="803.05" y="1645.7" font-size="32.6" text-anchor="start" font-weight="normal" fill="#000" textLength="89.83" lengthAdjust="spacingAndGlyphs" >99 cm</text>
<text x="823.27" y="1681.4" font-size="32.6" text-anchor="start" font-weight="normal" fill="#000" textLength="47.61" lengthAdjust="spacingAndGlyphs" >39"</text>
<text x="1061.7" y="1645.7" font-size="32.6" text-anchor="start" font-weight="normal" fill="#000" textLength="115.44" lengthAdjust="spacingAndGlyphs" >56,4 cm</text>
<text x="1081.28" y="1681.4" font-size="32.6" text-anchor="start" font-weight="normal" fill="#000" textLength="74.49" lengthAdjust="spacingAndGlyphs" >22.2"</text>
<text y="1860.8" font-size="73" font-weight="bold" fill="#2d2d2d"><tspan x="1582.69" textLength="62.16" lengthAdjust="spacingAndGlyphs">m</tspan><tspan x="1646.29" textLength="21.09" lengthAdjust="spacingAndGlyphs">i</tspan><tspan x="1667.69" textLength="20.69" lengthAdjust="spacingAndGlyphs">l</tspan><tspan x="1689.04" textLength="20.89" lengthAdjust="spacingAndGlyphs">i</tspan><tspan x="1711.19" textLength="62.04" lengthAdjust="spacingAndGlyphs">m</tspan><tspan x="1778.46" textLength="23.37" lengthAdjust="spacingAndGlyphs">e</tspan><tspan x="1803.22" textLength="21.55" lengthAdjust="spacingAndGlyphs">t</tspan><tspan x="1826.64" textLength="20.97" lengthAdjust="spacingAndGlyphs">r</tspan><tspan x="1850.83" textLength="32.47" lengthAdjust="spacingAndGlyphs">y</tspan></text>
</svg>
</body></html>
